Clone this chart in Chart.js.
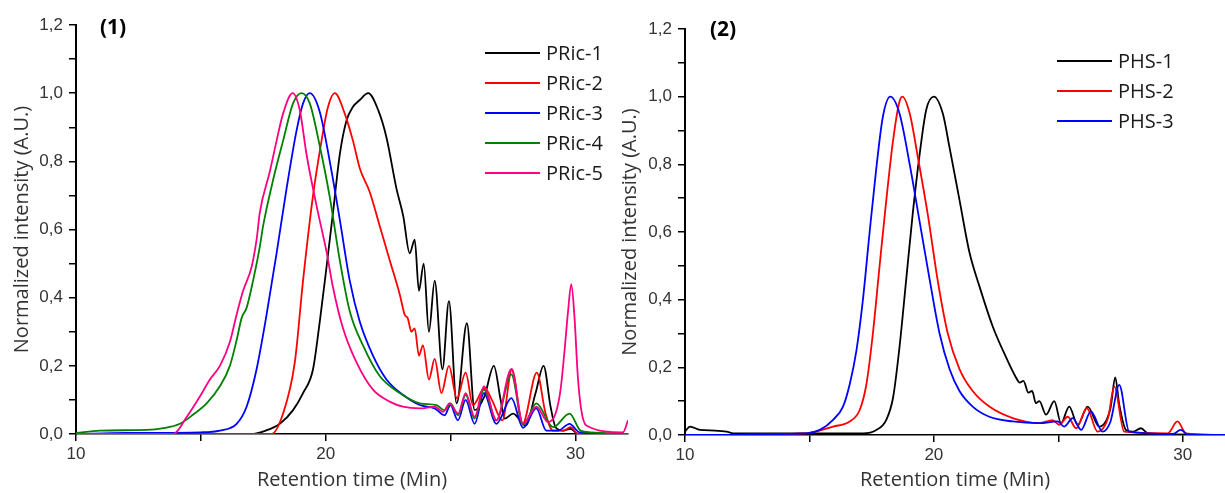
<!DOCTYPE html>
<html>
<head>
<meta charset="utf-8">
<script src="https://cdn.jsdelivr.net/npm/chart.js@4.4.1/dist/chart.umd.min.js"></script>
<style>
  body { margin: 0; background: #fff; width: 1225px; height: 493px; overflow: hidden; position: relative; }
  canvas { position: absolute; top: 0; }
  #c1 { left: 0; }
  #c2 { left: 610px; }
</style>
</head>
<body>
<canvas id="c1" width="630" height="493"></canvas>
<canvas id="c2" width="615" height="493"></canvas>
<script>
// panel (1) - PRic samples
var pric1X = [10, 17.0, 17.6, 18.16, 18.69, 19.09, 19.49, 19.76, 20.03, 20.29, 20.56, 20.83, 21.09, 21.36, 21.7, 22.1, 22.43, 22.83, 23.1, 23.36, 23.56, 23.73, 23.92, 24.13, 24.36, 24.67, 24.93, 25.24, 25.65, 25.96, 26.35, 26.73, 27.0, 27.16, 27.5, 28.0, 28.4, 28.72, 29.0, 29.2, 29.5, 29.8, 30.1, 32.1];
var pric1Y = [0, 0, 0.01, 0.03, 0.07, 0.12, 0.19, 0.33, 0.49, 0.65, 0.82, 0.92, 0.96, 0.98, 1.0, 0.95, 0.87, 0.72, 0.64, 0.53, 0.57, 0.42, 0.50, 0.30, 0.45, 0.19, 0.39, 0.09, 0.325, 0.07, 0.11, 0.20, 0.10, 0.045, 0.06, 0.025, 0.12, 0.20, 0.08, 0.02, 0.01, 0.015, 0, 0];

var pric2X = [10, 17.83, 18.29, 18.76, 19.09, 19.49, 19.83, 20.09, 20.36, 20.76, 21.09, 21.36, 21.76, 22.16, 22.56, 22.96, 23.16, 23.28, 23.43, 23.56, 23.73, 23.89, 24.13, 24.36, 24.63, 24.93, 25.25, 25.6, 25.89, 26.36, 26.65, 27.07, 27.45, 27.88, 28.45, 28.8, 29.1, 29.5, 29.8, 30.1, 32.1];
var pric2Y = [0, 0, 0.06, 0.21, 0.45, 0.70, 0.86, 0.96, 1.0, 0.94, 0.86, 0.78, 0.71, 0.61, 0.51, 0.41, 0.35, 0.34, 0.30, 0.31, 0.23, 0.26, 0.16, 0.22, 0.12, 0.20, 0.105, 0.18, 0.085, 0.135, 0.10, 0.04, 0.19, 0.03, 0.18, 0.06, 0.01, 0.01, 0.02, 0, 0];

var pric3X = [10, 12, 15.0, 15.76, 16.43, 16.83, 17.23, 17.63, 18.03, 18.43, 18.83, 19.09, 19.36, 19.76, 20.16, 20.56, 20.96, 21.36, 21.89, 22.43, 23.09, 23.76, 24.36, 24.76, 24.99, 25.29, 25.6, 25.96, 26.33, 26.83, 27.43, 27.9, 28.43, 28.83, 29.3, 29.76, 30.16, 32.1];
var pric3Y = [0, 0.003, 0.005, 0.01, 0.03, 0.08, 0.19, 0.35, 0.53, 0.72, 0.89, 0.97, 1.0, 0.945, 0.80, 0.63, 0.45, 0.33, 0.23, 0.16, 0.115, 0.085, 0.075, 0.055, 0.085, 0.04, 0.10, 0.03, 0.12, 0.03, 0.105, 0.018, 0.075, 0.01, 0.01, 0.03, 0.005, 0];

var pric4X = [10, 10.96, 12.83, 13.5, 14.16, 14.69, 15.23, 15.76, 16.16, 16.43, 16.63, 16.83, 17.09, 17.36, 17.49, 17.89, 18.29, 18.69, 19.03, 19.36, 19.76, 20.16, 20.56, 20.96, 21.49, 22.16, 22.96, 23.76, 24.43, 24.75, 25.0, 25.3, 25.6, 25.96, 26.33, 26.83, 27.43, 27.9, 28.43, 29.1, 29.76, 30.2, 30.6, 32.1];
var pric4Y = [0.003, 0.01, 0.012, 0.017, 0.03, 0.057, 0.09, 0.14, 0.20, 0.275, 0.34, 0.37, 0.45, 0.55, 0.61, 0.745, 0.86, 0.97, 1.0, 0.97, 0.845, 0.695, 0.51, 0.36, 0.26, 0.17, 0.12, 0.09, 0.085, 0.07, 0.09, 0.055, 0.115, 0.045, 0.13, 0.04, 0.175, 0.026, 0.09, 0.02, 0.06, 0.01, 0.005, 0];

var pric5X = [10, 13.89, 14.43, 14.96, 15.36, 15.76, 16.16, 16.43, 16.69, 17.03, 17.23, 17.36, 17.76, 18.03, 18.29, 18.67, 18.96, 19.23, 19.63, 20.03, 20.29, 20.69, 21.23, 21.89, 22.56, 23.09, 23.76, 24.36, 24.7, 24.95, 25.3, 25.6, 25.96, 26.33, 26.83, 27.43, 27.9, 28.43, 28.9, 29.2, 29.4, 29.56, 29.7, 29.83, 29.96, 30.09, 30.23, 30.43, 31.9, 32.1];
var pric5Y = [0, 0, 0.05, 0.11, 0.16, 0.20, 0.27, 0.35, 0.42, 0.49, 0.57, 0.65, 0.77, 0.86, 0.94, 1.0, 0.95, 0.82, 0.67, 0.535, 0.43, 0.31, 0.21, 0.13, 0.095, 0.08, 0.075, 0.08, 0.065, 0.09, 0.06, 0.12, 0.05, 0.14, 0.04, 0.19, 0.03, 0.08, 0.035, 0.06, 0.13, 0.245, 0.36, 0.44, 0.34, 0.17, 0.07, 0.025, 0.005, 0.04];

// panel (2) - PHS samples
var phs1X = [10, 10.2, 10.6, 11.2, 11.67, 11.94, 17.15, 17.69, 18.09, 18.36, 18.62, 18.89, 19.16, 19.43, 19.69, 20.0, 20.36, 20.63, 21.03, 21.43, 21.83, 22.37, 22.9, 23.3, 23.45, 23.6, 23.8, 23.95, 24.1, 24.24, 24.51, 24.84, 25.11, 25.44, 25.78, 26.18, 26.65, 27.1, 27.29, 27.45, 27.72, 28.0, 28.32, 28.6, 28.92, 31.7];
var phs1Y = [0.01, 0.025, 0.015, 0.013, 0.01, 0.005, 0.005, 0.015, 0.045, 0.11, 0.26, 0.46, 0.66, 0.83, 0.96, 1.0, 0.95, 0.85, 0.695, 0.54, 0.44, 0.32, 0.23, 0.17, 0.155, 0.16, 0.125, 0.13, 0.094, 0.10, 0.06, 0.10, 0.035, 0.084, 0.03, 0.084, 0.025, 0.08, 0.17, 0.09, 0.015, 0.01, 0.02, 0.005, 0.003, 0];

var phs2X = [10, 14.88, 15.95, 16.62, 17.02, 17.29, 17.55, 17.82, 18.09, 18.36, 18.6, 18.73, 19.03, 19.36, 19.76, 20.17, 20.56, 21.03, 21.56, 22.23, 23.17, 24.24, 24.77, 25.04, 25.38, 25.72, 26.15, 26.58, 27.0, 27.25, 27.65, 29.4, 29.79, 30.13, 31.7];
var phs2Y = [0, 0.005, 0.025, 0.04, 0.074, 0.15, 0.30, 0.50, 0.695, 0.87, 0.98, 1.0, 0.95, 0.82, 0.65, 0.45, 0.30, 0.195, 0.13, 0.084, 0.05, 0.035, 0.044, 0.03, 0.054, 0.02, 0.079, 0.01, 0.05, 0.143, 0.01, 0.005, 0.04, 0.005, 0];

var phs3X = [10, 14.88, 15.42, 15.95, 16.35, 16.62, 16.89, 17.15, 17.42, 17.69, 17.95, 18.25, 18.62, 19.03, 19.43, 19.83, 20.23, 20.63, 21.03, 21.56, 22.23, 23.17, 24.24, 24.97, 25.24, 25.58, 25.92, 26.31, 26.78, 27.1, 27.45, 27.85, 29.6, 29.92, 30.2, 31.7];
var phs3Y = [0, 0.005, 0.015, 0.045, 0.084, 0.15, 0.25, 0.40, 0.60, 0.79, 0.94, 1.0, 0.95, 0.80, 0.63, 0.46, 0.30, 0.195, 0.13, 0.084, 0.054, 0.04, 0.035, 0.04, 0.025, 0.05, 0.015, 0.07, 0.01, 0.04, 0.148, 0.01, 0.003, 0.015, 0.002, 0];

var labels1 = ["PRic-1", "PRic-2", "PRic-3", "PRic-4", "PRic-5"];
var labels2 = ["PHS-1", "PHS-2", "PHS-3"];
var colors1 = ["#000000", "#ff0000", "#0000ff", "#008000", "#ff0080"];
var colors2 = ["#000000", "#ff0000", "#0000ff"];

function pts(xs, ys) {
  var out = [];
  for (var i = 0; i < xs.length; i++) out.push({x: xs[i], y: ys[i]});
  return out;
}

function makeSets(xList, yList, labels, colors) {
  return labels.map(function (lab, i) {
    return {
      label: lab,
      data: pts(xList[i], yList[i]),
      borderColor: colors[i],
      borderWidth: 1.8,
      pointRadius: 0,
      fill: false,
      cubicInterpolationMode: 'monotone',
      order: -i
    };
  });
}

var tickFont = {family: "'Liberation Sans', Arial, sans-serif", size: 17};
var titleFont = {family: "'Open Sans', sans-serif", size: 20};

// draws "(1)"/"(2)" and the line legend inside the plot
var panelDeco = {
  id: 'panelDeco',
  afterDraw: function (chart, args, opts) {
    var ctx = chart.ctx;
    ctx.save();
    ctx.fillStyle = '#000';
    ctx.font = "bold 21px 'Open Sans', sans-serif";
    ctx.textBaseline = 'middle';
    ctx.textAlign = 'left';
    ctx.fillText(opts.tag, opts.tagX, opts.tagY);
    ctx.font = "20px 'Open Sans', sans-serif";
    chart.data.datasets.forEach(function (ds, i) {
      var y = opts.legY + i * 30;
      ctx.strokeStyle = ds.borderColor;
      ctx.lineWidth = 1.8;
      ctx.beginPath();
      ctx.moveTo(opts.legX, y);
      ctx.lineTo(opts.legX + 55, y);
      ctx.stroke();
      ctx.fillStyle = '#1a1a1a';
      ctx.fillText(ds.label, opts.legX + 61, y + 1);
    });
    ctx.restore();
  }
};

function makeChart(id, sets, xMax, yWidth, xHeight, pad, yTitlePad, deco) {
  return new Chart(document.getElementById(id), {
    type: 'line',
    data: {datasets: sets},
    options: {
      responsive: false,
      animation: false,
      layout: {padding: pad},
      plugins: {legend: {display: false}, tooltip: {enabled: false}, panelDeco: deco},
      scales: {
        x: {
          type: 'linear', min: 10, max: xMax,
          afterFit: function (s) { s.height = xHeight; },
          border: {color: '#000', width: 1.5},
          grid: {drawOnChartArea: false, color: '#000', tickLength: 7, lineWidth: 1.5},
          ticks: {
            stepSize: 5, includeBounds: false, autoSkip: false, maxRotation: 0,
            padding: 3, font: tickFont, color: '#333',
            callback: function (v) { return v % 10 === 0 ? String(v) : ''; }
          },
          title: {display: true, text: 'Retention time (Min)', font: titleFont, color: '#333', padding: {top: 0, bottom: 1}}
        },
        y: {
          type: 'linear', min: 0, max: 1.2,
          afterFit: function (s) { s.width = yWidth; },
          border: {color: '#000', width: 2},
          grid: {drawOnChartArea: false, color: '#000', tickLength: 7, lineWidth: 1.5},
          ticks: {
            stepSize: 0.1, autoSkip: false, padding: 6, font: tickFont, color: '#333',
            callback: function (v) {
              var n = Math.round(v * 10);
              return n % 2 === 0 ? (n / 10).toFixed(1).replace('.', ',') : '';
            }
          },
          title: {display: true, text: 'Normalized intensity (A.U.)', font: titleFont, color: '#333', padding: {top: yTitlePad, bottom: 0}}
        }
      }
    },
    plugins: [panelDeco]
  });
}

makeChart('c1',
  makeSets([pric1X, pric2X, pric3X, pric4X, pric5X], [pric1Y, pric2Y, pric3Y, pric4Y, pric5Y], labels1, colors1),
  32.1, 76, 59, {top: 25, right: 2, left: 0, bottom: 0}, 10,
  {tag: '(1)', tagX: 100, tagY: 28, legX: 485, legY: 53});

makeChart('c2',
  makeSets([phs1X, phs2X, phs3X], [phs1Y, phs2Y, phs3Y], labels2, colors2),
  31.7, 75, 58, {top: 29, right: 0, left: 0, bottom: 0}, 8,
  {tag: '(2)', tagX: 100, tagY: 30, legX: 447, legY: 61});
</script>
</body>
</html>
